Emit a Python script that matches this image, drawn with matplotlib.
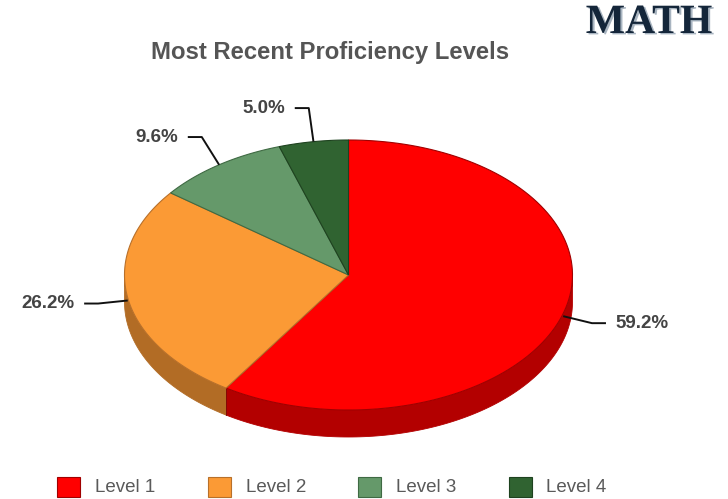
import numpy as np
import matplotlib
matplotlib.use("Agg")
import matplotlib.pyplot as plt
import matplotlib.patheffects as pe
from matplotlib.patches import Polygon, Rectangle

levels = ["Level 1", "Level 2", "Level 3", "Level 4"]
percents = [59.2, 26.2, 9.6, 5.0]
top_colors = ["#ff0000", "#fb9a35", "#65996a", "#306331"]
side_colors = ["#b30000", "#b26c25", "#466b4a", "#214522"]
edge_colors = ["#a00000", "#b8702a", "#3f6a43", "#1e421f"]

title = "Most Recent Proficiency Levels"
subject = "MATH"

# pie geometry in pixels
cx, cy = 348.5, 275
rx, ry = 224, 135
depth = 27

fig = plt.figure(figsize=(7.28, 4.99), dpi=100)
ax = fig.add_axes([0, 0, 1, 1])
ax.set_xlim(0, 728)
ax.set_ylim(499, 0)
ax.axis("off")


def arc(t1, t2, n=120, dy=0):
    t = np.radians(np.linspace(t1, t2, n))
    return np.column_stack([cx + rx * np.cos(t), cy - ry * np.sin(t) + dy])


total = sum(percents)
cum = np.concatenate([[0], np.cumsum(percents)]) / total
starts = 90 - 360 * cum[:-1]
ends = 90 - 360 * cum[1:]

# side walls (front half only)
for i in range(len(percents)):
    hi, lo = starts[i], ends[i]
    for k in (0, -1):
        a, b = -180 + 360 * k, 0 + 360 * k
        s, e = min(hi, b), max(lo, a)
        if s <= e:
            continue
        top = arc(s, e)
        bot = arc(e, s, dy=depth)
        ax.add_patch(Polygon(np.vstack([top, bot]), closed=True,
                             facecolor=side_colors[i], edgecolor=side_colors[i],
                             lw=0.6, zorder=1))
        if lo > a:
            p = arc(lo, lo, n=1)[0]
            ax.plot([p[0], p[0]], [p[1], p[1] + depth], color="#7a0000",
                    lw=0.6, zorder=2)

# top faces
for i in range(len(percents)):
    pts = np.vstack([[cx, cy], arc(starts[i], ends[i])])
    ax.add_patch(Polygon(pts, closed=True, facecolor=top_colors[i],
                         edgecolor=edge_colors[i], lw=0.8, zorder=3))

# labels with leader lines
for i in range(len(percents)):
    mid = np.radians((starts[i] + ends[i]) / 2)
    c, s = np.cos(mid), np.sin(mid)
    ex, ey = cx + rx * c, cy - ry * s
    if s < 0:
        ey += depth * 0.1
    kx, ky = cx + (rx + 30) * c, cy - (ry + 34) * s
    side = 1 if c >= 0 else -1
    hx = kx + side * 14
    ax.plot([ex, kx, hx], [ey, ky, ky], color="#111111", lw=1.4,
            zorder=4, solid_capstyle="butt")
    ax.text(hx + side * 10, ky, f"{percents[i]:.1f}%",
            ha="left" if side > 0 else "right", va="center",
            fontsize=13.5, fontweight="bold", color="#444444",
            family="Liberation Sans")

ax.text(330, 52, title, ha="center", va="center", fontsize=17.2,
        fontweight="bold", color="#555555", family="Liberation Sans")

ax.text(649, 23, subject, ha="center", va="center", fontsize=30,
        fontweight="bold", color="#14263a", family="Liberation Serif",
        path_effects=[pe.withSimplePatchShadow(offset=(1.5, -1),
                                               shadow_rgbFace="#a8b4c0",
                                               alpha=1.0)])

# legend
for i, name in enumerate(levels):
    x0 = 57 + i * 150.5
    ax.add_patch(Rectangle((x0, 477), 23, 20, facecolor=top_colors[i],
                           edgecolor=edge_colors[i], lw=0.8))
    ax.text(x0 + 38, 488, name, ha="left", va="center", fontsize=13.5,
            color="#5a5a5a", family="Liberation Sans")

fig.savefig("out.png", dpi=100)
